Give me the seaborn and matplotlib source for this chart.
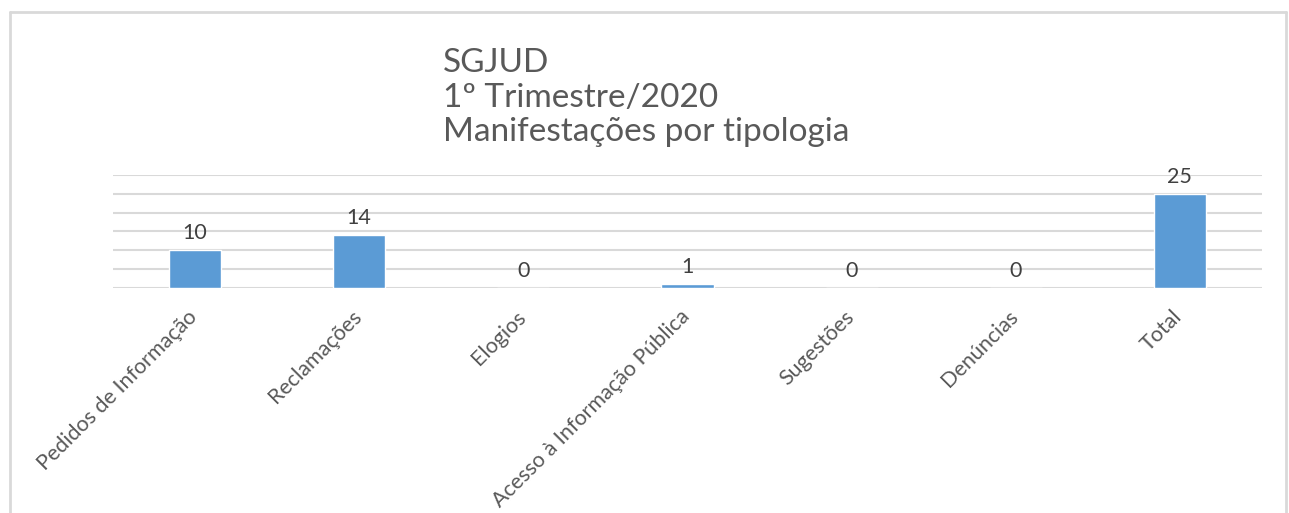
import matplotlib
matplotlib.use("Agg")
import matplotlib.pyplot as plt
import seaborn as sns
import pandas as pd
from matplotlib.lines import Line2D
from matplotlib.transforms import ScaledTranslation

categories = ["Pedidos de Informação", "Reclamações", "Elogios",
              "Acesso à Informação Pública", "Sugestões", "Denúncias", "Total"]
values = [10, 14, 0, 1, 0, 0, 25]
title_lines = ["SGJUD", "1º Trimestre/2020", "Manifestações por tipologia"]

sns.set_theme(style="white")
plt.rcParams["font.family"] = ["Lato", "DejaVu Sans"]

df = pd.DataFrame({"cat": categories, "val": values})

fig = plt.figure(figsize=(12.89, 5.13), dpi=100)
ax = fig.add_axes([113/1289, 1-287.5/513, (1262-113)/1289, (287.5-175)/513])

sns.barplot(data=df, x="cat", y="val", color="#5b9bd5", width=0.317,
            saturation=1, ax=ax, zorder=3)

ax.set_ylim(0, 30)
ax.set_yticks(range(0, 31, 5))
ax.yaxis.grid(True, color="#d9d9d9", linewidth=1.5, zorder=0)
ax.set_axisbelow(True)
ax.tick_params(axis="y", left=False, labelleft=False)
ax.tick_params(axis="x", bottom=False, pad=2)
for s in ax.spines.values():
    s.set_visible(False)
ax.set_xlabel("")
ax.set_ylabel("")
ax.set_xlim(-0.5, len(categories) - 0.5)

ax.set_xticks(range(len(categories)))
ax.set_xticklabels(categories, rotation=45, ha="right", va="top",
                   rotation_mode="anchor", fontsize=15.5, color="#595959")
shift = ScaledTranslation(-8/100, -8/100, fig.dpi_scale_trans)
for lbl in ax.get_xticklabels():
    lbl.set_transform(lbl.get_transform() + shift)

for c in ax.containers:
    labels = [f"{int(v)}" for v in values]
    ax.bar_label(c, labels=labels, padding=5, fontsize=15.5, color="#404040")

fig.text(443/1289, 1-48/513, "\n".join(title_lines), ha="left", va="top",
         fontsize=24, color="#595959", linespacing=1.19)

# chart border (no bottom edge)
fig.add_artist(Line2D([10/1289, 10/1289], [0, 1-12/513], transform=fig.transFigure,
                      color="#d9d9d9", linewidth=2))
fig.add_artist(Line2D([10/1289, 1286/1289], [1-12/513, 1-12/513], transform=fig.transFigure,
                      color="#d9d9d9", linewidth=2))
fig.add_artist(Line2D([1286/1289, 1286/1289], [0, 1-12/513], transform=fig.transFigure,
                      color="#d9d9d9", linewidth=2))

fig.savefig("out.png", dpi=100)
